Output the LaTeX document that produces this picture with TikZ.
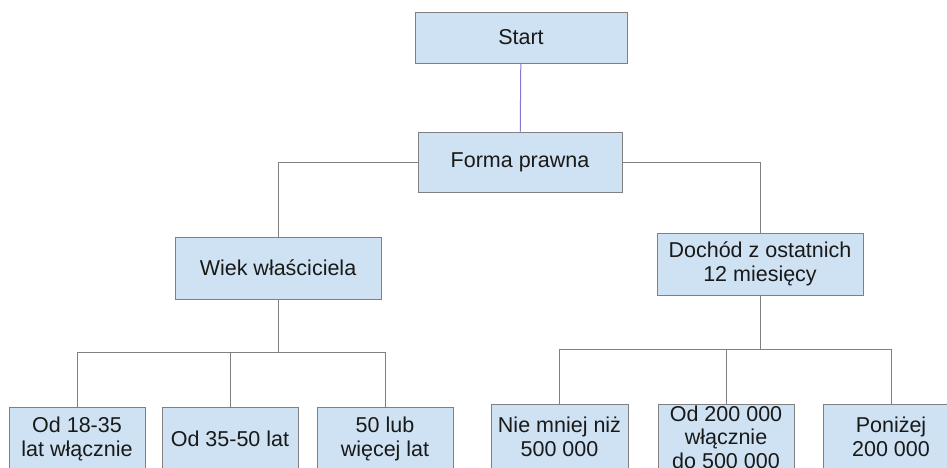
\documentclass[tikz,border=0pt]{standalone}
\usepackage{fontspec}
\setmainfont{Liberation Sans}
\definecolor{boxfill}{RGB}{207,226,243}
\definecolor{boxline}{RGB}{128,128,128}
\definecolor{wire}{RGB}{128,128,128}
\definecolor{purplewire}{RGB}{130,120,215}
\definecolor{txt}{RGB}{25,25,25}
\begin{document}
\begin{tikzpicture}[x=1pt,y=-1pt,
  box/.style={draw=boxline, line width=1pt, fill=boxfill, rectangle, inner sep=0pt,
    text=txt, align=center, font=\fontsize{21.5}{23.5}\selectfont},
  wirestyle/.style={draw=wire, line width=1pt}
]
\useasboundingbox (0,0) rectangle (947,467);
\clip (0,0) rectangle (947,467);
\fill[white] (0,0) rectangle (947,467);

\node[box, minimum width=212pt, minimum height=51pt] (start) at (521,37.5) {Start};
\node[box, minimum width=204pt, minimum height=60pt] (forma) at (520,162) {Forma prawna};
\node[box, minimum width=206pt, minimum height=62pt] (wiek) at (278,268) {Wiek właściciela};
\node[box, minimum width=206pt, minimum height=62pt] (doch) at (760,264) {Dochód z ostatnich\\12 miesięcy};

\node[box, minimum width=136pt, minimum height=64pt] (b1) at (77,439) {Od 18-35\\lat włącznie};
\node[box, minimum width=136pt, minimum height=64pt] (b2) at (230,439) {Od 35-50 lat};
\node[box, minimum width=136pt, minimum height=64pt] (b3) at (385,439) {50 lub\\więcej lat};
\node[box, minimum width=137pt, minimum height=66pt] (b4) at (559.5,437) {Nie mniej niż\\500 000};
\node[box, minimum width=136pt, minimum height=66pt] (b5) at (726,437) {Od 200 000\\włącznie\\do 500 000};
\node[box, minimum width=136pt, minimum height=66pt] (b6) at (891,437) {Poniżej\\200 000};

\coordinate (jl) at (278,352);
\coordinate (jr) at (760,349);

\draw[draw=purplewire, line width=1pt] (start) -- (forma);
\draw[wirestyle] (forma.west) -| (wiek.north);
\draw[wirestyle] (forma.east) -| (doch.north);
\draw[wirestyle] (wiek.south) -- (jl);
\draw[wirestyle] (jl) -| (b1.north);
\draw[wirestyle] (jl) -| (b2.north);
\draw[wirestyle] (jl) -| (b3.north);
\draw[wirestyle] (doch.south) -- (jr);
\draw[wirestyle] (jr) -| (b4.north);
\draw[wirestyle] (jr) -| (b5.north);
\draw[wirestyle] (jr) -| (b6.north);
\end{tikzpicture}
\end{document}
